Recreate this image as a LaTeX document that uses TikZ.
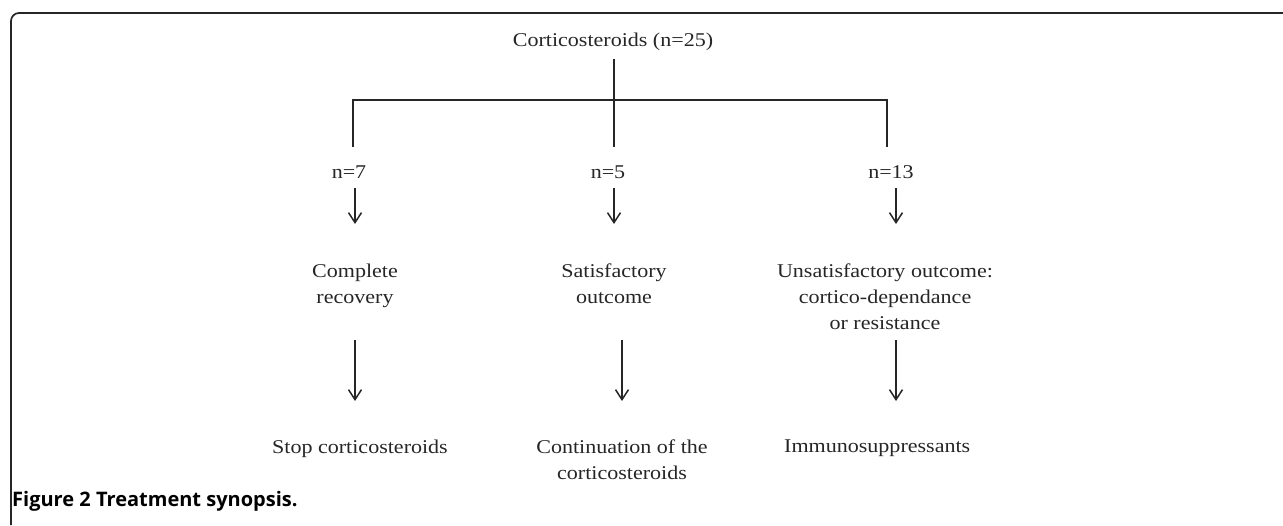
\documentclass[tikz,border=0pt]{standalone}
\usepackage{fontspec}
\setmainfont{Liberation Serif}[FakeStretch=1.13]
\newfontfamily\capfont{Open Sans}
\usetikzlibrary{arrows.meta}
\tikzset{
  frame/.style={line width=1.7pt, draw=black!85, rounded corners=8pt},
  conn/.style={line width=1.5pt, draw=black!85},
  arr/.style={conn, -{Straight Barb[length=10pt,width=13pt,line width=1.5pt]}},
  lbl/.style={font=\fontsize{19.5}{26}\selectfont, text=black!85, inner sep=0pt, align=center},
}
\begin{document}
\begin{tikzpicture}[x=1pt,y=-1pt]
\useasboundingbox (0,0) rectangle (1283,525);
\draw[frame] (1283,13) -- (11,13) -- (11,525);
% title
\node[lbl] (t) at (613,42) {Corticosteroids (n=25)};
\coordinate (tS) at (614,59);
\coordinate (bL) at (353,147);
\coordinate (bM) at (614,147);
\coordinate (bR) at (887,147);
\coordinate (jL) at (353,100);
\coordinate (jR) at (887,100);
\draw[conn] (tS) -- (bM);
\draw[conn] (bL) -- (jL) -- (jR) -- (bR);
% n labels
\node[lbl] (n1) at (349,172) {n=7};
\node[lbl] (n2) at (608,172) {n=5};
\node[lbl] (n3) at (891,172) {n=13};
\coordinate (a1s) at (355,188); \coordinate (a1e) at (355,224);
\coordinate (a2s) at (614,188); \coordinate (a2e) at (614,224);
\coordinate (a3s) at (896,188); \coordinate (a3e) at (896,224);
\draw[arr] (a1s) -- (a1e);
\draw[arr] (a2s) -- (a2e);
\draw[arr] (a3s) -- (a3e);
% outcome labels
\node[lbl, anchor=north] (o1) at (355,264) {Complete\\recovery};
\node[lbl, anchor=north] (o2) at (614,264) {Satisfactory\\outcome};
\node[lbl, anchor=north] (o3) at (885,264) {Unsatisfactory outcome:\\cortico-dependance\\or resistance};
\coordinate (b1s) at (355,340); \coordinate (b1e) at (355,401);
\coordinate (b2s) at (622,340); \coordinate (b2e) at (622,401);
\coordinate (b3s) at (896,340); \coordinate (b3e) at (896,401);
\draw[arr] (b1s) -- (b1e);
\draw[arr] (b2s) -- (b2e);
\draw[arr] (b3s) -- (b3e);
% final labels
\node[lbl, anchor=north] (f1) at (360,440) {Stop corticosteroids};
\node[lbl, anchor=north] (f2) at (622,440) {Continuation of the\\corticosteroids};
\node[lbl, anchor=north west] (f3) at (784,440) {Immunosuppressants};
% caption
\node[anchor=west, inner sep=0pt, font=\capfont\bfseries\fontsize{20}{22}\selectfont] (cap) at (12,501) {Figure 2 Treatment synopsis.};
\end{tikzpicture}
\end{document}
